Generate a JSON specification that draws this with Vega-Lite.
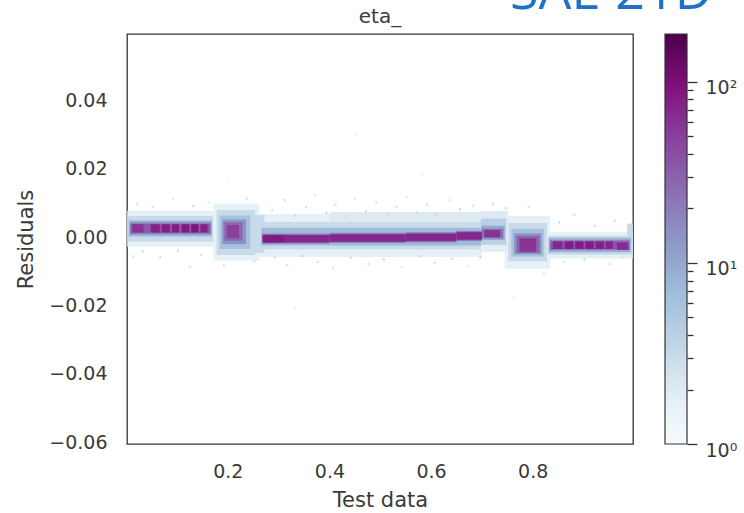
{
  "$schema": "https://vega.github.io/schema/vega-lite/v6.json",
  "width": 506,
  "height": 410,
  "autosize": {"type": "none"},
  "padding": {"left": 127, "top": 34, "right": 111, "bottom": 69},
  "background": "white",
  "config": {
    "view": {"stroke": "#333333", "strokeWidth": 1.3},
    "font": "DejaVu Sans",
    "axis": {
      "grid": false, "ticks": false, "domain": false,
      "labelFont": "DejaVu Sans", "labelFontSize": 19, "labelColor": "#3a3a3a",
      "titleFont": "DejaVu Sans", "titleFontSize": 21, "titleColor": "#3a3a3a", "titleFontWeight": "normal",
      "labelFlush": false, "labelOverlap": false
    }
  },
  "datasets": {
    "cells": [
      {"x": 0.002, "x2": 0.172, "y": -0.0028, "y2": 0.0078, "c": 1.6},
      {"x": 0.003, "x2": 0.171, "y": -0.0012, "y2": 0.0062, "c": 3},
      {"x": 0.005, "x2": 0.169, "y": 0.0002, "y2": 0.0050, "c": 7},
      {"x": 0.007, "x2": 0.167, "y": 0.0008, "y2": 0.0044, "c": 18},
      {"x": 0.009, "x2": 0.165, "y": 0.0013, "y2": 0.0039, "c": 35},
      {"x": 0.012, "x2": 0.034, "y": 0.0014, "y2": 0.0038, "c": 60},
      {"x": 0.048, "x2": 0.066, "y": 0.0014, "y2": 0.0038, "c": 75},
      {"x": 0.070, "x2": 0.086, "y": 0.0014, "y2": 0.0038, "c": 80},
      {"x": 0.090, "x2": 0.104, "y": 0.0014, "y2": 0.0038, "c": 80},
      {"x": 0.109, "x2": 0.124, "y": 0.0014, "y2": 0.0038, "c": 85},
      {"x": 0.128, "x2": 0.142, "y": 0.0014, "y2": 0.0038, "c": 90},
      {"x": 0.146, "x2": 0.160, "y": 0.0014, "y2": 0.0038, "c": 75},

      {"x": 0.172, "x2": 0.262, "y": -0.0068, "y2": 0.0098, "c": 1.6},
      {"x": 0.178, "x2": 0.254, "y": -0.0052, "y2": 0.0080, "c": 3},
      {"x": 0.184, "x2": 0.244, "y": -0.0034, "y2": 0.0064, "c": 6},
      {"x": 0.189, "x2": 0.236, "y": -0.0020, "y2": 0.0052, "c": 14},
      {"x": 0.193, "x2": 0.229, "y": -0.0010, "y2": 0.0044, "c": 28},
      {"x": 0.198, "x2": 0.222, "y": -0.0002, "y2": 0.0036, "c": 50},
      {"x": 0.240, "x2": 0.272, "y": -0.0045, "y2": 0.0065, "c": 3},

      {"x": 0.262, "x2": 0.700, "y": -0.0058, "y2": 0.0068, "c": 1.6},
      {"x": 0.400, "x2": 0.745, "y": 0.0045, "y2": 0.0074, "c": 2},
      {"x": 0.264, "x2": 0.698, "y": -0.0036, "y2": 0.0045, "c": 3},
      {"x": 0.266, "x2": 0.698, "y": -0.0024, "y2": 0.0028, "c": 7},
      {"x": 0.267, "x2": 0.400, "y": -0.0019, "y2": 0.0011, "c": 20},
      {"x": 0.400, "x2": 0.550, "y": -0.0017, "y2": 0.0013, "c": 20},
      {"x": 0.550, "x2": 0.650, "y": -0.0015, "y2": 0.0015, "c": 20},
      {"x": 0.650, "x2": 0.700, "y": -0.0011, "y2": 0.0019, "c": 20},
      {"x": 0.268, "x2": 0.400, "y": -0.0015, "y2": 0.0007, "c": 70},
      {"x": 0.400, "x2": 0.550, "y": -0.0013, "y2": 0.0009, "c": 70},
      {"x": 0.550, "x2": 0.650, "y": -0.0011, "y2": 0.0011, "c": 70},
      {"x": 0.650, "x2": 0.700, "y": -0.0007, "y2": 0.0015, "c": 70},
      {"x": 0.272, "x2": 0.310, "y": -0.0015, "y2": 0.0007, "c": 85},

      {"x": 0.695, "x2": 0.752, "y": -0.0042, "y2": 0.0078, "c": 1.8},
      {"x": 0.698, "x2": 0.748, "y": -0.0022, "y2": 0.0055, "c": 4},
      {"x": 0.699, "x2": 0.745, "y": -0.0008, "y2": 0.0034, "c": 10},
      {"x": 0.700, "x2": 0.742, "y": -0.0003, "y2": 0.0025, "c": 25},
      {"x": 0.705, "x2": 0.736, "y": 0.0000, "y2": 0.0021, "c": 60},

      {"x": 0.745, "x2": 0.834, "y": -0.0092, "y2": 0.0062, "c": 1.6},
      {"x": 0.752, "x2": 0.828, "y": -0.0070, "y2": 0.0042, "c": 3},
      {"x": 0.758, "x2": 0.822, "y": -0.0056, "y2": 0.0024, "c": 6},
      {"x": 0.763, "x2": 0.818, "y": -0.0050, "y2": 0.0012, "c": 13},
      {"x": 0.768, "x2": 0.814, "y": -0.0046, "y2": 0.0005, "c": 28},
      {"x": 0.774, "x2": 0.807, "y": -0.0042, "y2": -0.0003, "c": 60},

      {"x": 0.826, "x2": 0.997, "y": -0.0062, "y2": 0.0016, "c": 1.6},
      {"x": 0.830, "x2": 0.995, "y": -0.0050, "y2": 0.0004, "c": 3.5},
      {"x": 0.832, "x2": 0.993, "y": -0.0043, "y2": -0.0003, "c": 9},
      {"x": 0.834, "x2": 0.991, "y": -0.0037, "y2": -0.0009, "c": 22},
      {"x": 0.836, "x2": 0.989, "y": -0.0034, "y2": -0.0012, "c": 38},
      {"x": 0.840, "x2": 0.858, "y": -0.0034, "y2": -0.0012, "c": 70},
      {"x": 0.863, "x2": 0.880, "y": -0.0034, "y2": -0.0012, "c": 80},
      {"x": 0.884, "x2": 0.900, "y": -0.0034, "y2": -0.0012, "c": 80},
      {"x": 0.904, "x2": 0.920, "y": -0.0034, "y2": -0.0012, "c": 80},
      {"x": 0.924, "x2": 0.940, "y": -0.0034, "y2": -0.0012, "c": 78},
      {"x": 0.944, "x2": 0.958, "y": -0.0034, "y2": -0.0012, "c": 72},
      {"x": 0.966, "x2": 0.988, "y": -0.0037, "y2": -0.0016, "c": 65},
      {"x": 0.986, "x2": 0.997, "y": -0.0020, "y2": 0.0040, "c": 3},

      {"x": 0.285, "x2": 0.289, "y": 0.0075, "y2": 0.0082, "c": 2.5},
      {"x": 0.310, "x2": 0.314, "y": 0.0105, "y2": 0.0112, "c": 2.5},
      {"x": 0.330, "x2": 0.334, "y": 0.0060, "y2": 0.0067, "c": 3},
      {"x": 0.352, "x2": 0.356, "y": 0.0085, "y2": 0.0092, "c": 2.5},
      {"x": 0.370, "x2": 0.374, "y": 0.0120, "y2": 0.0127, "c": 2},
      {"x": 0.392, "x2": 0.396, "y": 0.0068, "y2": 0.0075, "c": 3},
      {"x": 0.410, "x2": 0.414, "y": 0.0092, "y2": 0.0099, "c": 2.5},
      {"x": 0.430, "x2": 0.434, "y": 0.0058, "y2": 0.0065, "c": 3},
      {"x": 0.448, "x2": 0.452, "y": 0.0110, "y2": 0.0117, "c": 2},
      {"x": 0.470, "x2": 0.474, "y": 0.0072, "y2": 0.0079, "c": 3},
      {"x": 0.490, "x2": 0.494, "y": 0.0098, "y2": 0.0105, "c": 2.5},
      {"x": 0.512, "x2": 0.516, "y": 0.0062, "y2": 0.0069, "c": 3},
      {"x": 0.530, "x2": 0.534, "y": 0.0085, "y2": 0.0092, "c": 2.5},
      {"x": 0.550, "x2": 0.554, "y": 0.0115, "y2": 0.0122, "c": 2},
      {"x": 0.570, "x2": 0.574, "y": 0.0068, "y2": 0.0075, "c": 3},
      {"x": 0.590, "x2": 0.594, "y": 0.0092, "y2": 0.0099, "c": 2.5},
      {"x": 0.610, "x2": 0.614, "y": 0.0063, "y2": 0.0070, "c": 3},
      {"x": 0.635, "x2": 0.639, "y": 0.0105, "y2": 0.0112, "c": 2},
      {"x": 0.655, "x2": 0.659, "y": 0.0078, "y2": 0.0085, "c": 3},
      {"x": 0.680, "x2": 0.684, "y": 0.0088, "y2": 0.0095, "c": 2.5},
      {"x": 0.720, "x2": 0.724, "y": 0.0095, "y2": 0.0102, "c": 2.5},
      {"x": 0.745, "x2": 0.749, "y": 0.0082, "y2": 0.0089, "c": 2.5},
      {"x": 0.290, "x2": 0.294, "y": -0.0062, "y2": -0.0055, "c": 3},
      {"x": 0.315, "x2": 0.319, "y": -0.0085, "y2": -0.0078, "c": 2.5},
      {"x": 0.345, "x2": 0.349, "y": -0.0058, "y2": -0.0051, "c": 3},
      {"x": 0.375, "x2": 0.379, "y": -0.0075, "y2": -0.0068, "c": 2.5},
      {"x": 0.405, "x2": 0.409, "y": -0.0095, "y2": -0.0088, "c": 2},
      {"x": 0.440, "x2": 0.444, "y": -0.0063, "y2": -0.0056, "c": 3},
      {"x": 0.475, "x2": 0.479, "y": -0.0082, "y2": -0.0075, "c": 2.5},
      {"x": 0.505, "x2": 0.509, "y": -0.0068, "y2": -0.0061, "c": 3},
      {"x": 0.540, "x2": 0.544, "y": -0.0091, "y2": -0.0084, "c": 2},
      {"x": 0.575, "x2": 0.579, "y": -0.0060, "y2": -0.0053, "c": 3},
      {"x": 0.605, "x2": 0.609, "y": -0.0078, "y2": -0.0071, "c": 2.5},
      {"x": 0.640, "x2": 0.644, "y": -0.0066, "y2": -0.0059, "c": 3},
      {"x": 0.670, "x2": 0.674, "y": -0.0088, "y2": -0.0081, "c": 2},
      {"x": 0.695, "x2": 0.699, "y": -0.0062, "y2": -0.0055, "c": 3},
      {"x": 0.020, "x2": 0.024, "y": 0.0095, "y2": 0.0102, "c": 2.5},
      {"x": 0.050, "x2": 0.054, "y": 0.0085, "y2": 0.0092, "c": 2.5},
      {"x": 0.090, "x2": 0.094, "y": 0.0108, "y2": 0.0115, "c": 2},
      {"x": 0.130, "x2": 0.134, "y": 0.0088, "y2": 0.0095, "c": 2.5},
      {"x": 0.160, "x2": 0.164, "y": 0.0098, "y2": 0.0105, "c": 2},
      {"x": 0.030, "x2": 0.034, "y": -0.0045, "y2": -0.0038, "c": 3},
      {"x": 0.065, "x2": 0.069, "y": -0.0062, "y2": -0.0055, "c": 2.5},
      {"x": 0.100, "x2": 0.104, "y": -0.0042, "y2": -0.0035, "c": 3},
      {"x": 0.123, "x2": 0.127, "y": -0.0090, "y2": -0.0083, "c": 2.5},
      {"x": 0.145, "x2": 0.149, "y": -0.0055, "y2": -0.0048, "c": 2.5},
      {"x": 0.012, "x2": 0.016, "y": -0.0060, "y2": -0.0053, "c": 2.5},
      {"x": 0.235, "x2": 0.239, "y": 0.0110, "y2": 0.0117, "c": 2.5},
      {"x": 0.190, "x2": 0.194, "y": -0.0085, "y2": -0.0078, "c": 2.5},
      {"x": 0.250, "x2": 0.254, "y": -0.0075, "y2": -0.0068, "c": 2.5},
      {"x": 0.790, "x2": 0.794, "y": 0.0085, "y2": 0.0092, "c": 2.5},
      {"x": 0.850, "x2": 0.854, "y": 0.0040, "y2": 0.0047, "c": 3},
      {"x": 0.880, "x2": 0.884, "y": 0.0062, "y2": 0.0069, "c": 2.5},
      {"x": 0.920, "x2": 0.924, "y": 0.0030, "y2": 0.0037, "c": 3},
      {"x": 0.960, "x2": 0.964, "y": 0.0045, "y2": 0.0052, "c": 2.5},
      {"x": 0.860, "x2": 0.864, "y": -0.0075, "y2": -0.0068, "c": 2.5},
      {"x": 0.900, "x2": 0.904, "y": -0.0068, "y2": -0.0061, "c": 3},
      {"x": 0.950, "x2": 0.954, "y": -0.0082, "y2": -0.0075, "c": 2.5},
      {"x": 0.975, "x2": 0.979, "y": -0.0062, "y2": -0.0055, "c": 2.5},
      {"x": 0.820, "x2": 0.824, "y": -0.0110, "y2": -0.0103, "c": 2},
      {"x": 0.450, "x2": 0.454, "y": 0.0300, "y2": 0.0307, "c": 1.5},
      {"x": 0.330, "x2": 0.334, "y": -0.0210, "y2": -0.0203, "c": 1.5},
      {"x": 0.580, "x2": 0.584, "y": 0.0180, "y2": 0.0187, "c": 1.5},
      {"x": 0.200, "x2": 0.204, "y": 0.0160, "y2": 0.0167, "c": 1.5},
      {"x": 0.760, "x2": 0.764, "y": -0.0180, "y2": -0.0173, "c": 1.5}
    ]
  },
  "resolve": {
    "scale": {"x": "independent", "y": "independent"},
    "axis": {"x": "independent", "y": "independent"}
  },
  "layer": [
    {
      "data": {"name": "cells"},
      "mark": {"type": "rect", "clip": true, "strokeWidth": 0},
      "encoding": {
        "x": {
          "field": "x", "type": "quantitative",
          "scale": {"domain": [0.0015, 0.9975], "nice": false, "zero": false},
          "axis": {"title": "Test data", "values": [0.2, 0.4, 0.6, 0.8], "format": ".1f", "labelPadding": 18, "titlePadding": 8}
        },
        "x2": {"field": "x2"},
        "y": {
          "field": "y", "type": "quantitative",
          "scale": {"domain": [-0.0605, 0.0595], "nice": false, "zero": false},
          "axis": {"title": "Residuals", "values": [-0.06, -0.04, -0.02, 0, 0.02, 0.04], "format": ".2f", "labelPadding": 20, "titlePadding": 12}
        },
        "y2": {"field": "y2"},
        "color": {
          "field": "c", "type": "quantitative",
          "scale": {
            "type": "log",
            "domain": [1, 1.919, 3.683, 7.069, 13.57, 26.04, 49.97, 95.9, 184],
            "range": ["#f7fcfd", "#e0ecf4", "#bfd3e6", "#9ebcda", "#8c96c6", "#8c6bb1", "#88419d", "#810f7c", "#4d004b"],
            "interpolate": "rgb"
          },
          "legend": null
        },
        "order": {"field": "c", "type": "quantitative", "sort": "ascending"}
      }
    },
    {
      "data": {"values": [{}]},
      "mark": {
        "type": "rect", "stroke": "#333333", "strokeWidth": 1.2,
        "fill": {
          "gradient": "linear", "x1": 0, "y1": 1, "x2": 0, "y2": 0,
          "stops": [
            {"offset": 0, "color": "#f7fcfd"},
            {"offset": 0.125, "color": "#e0ecf4"},
            {"offset": 0.25, "color": "#bfd3e6"},
            {"offset": 0.375, "color": "#9ebcda"},
            {"offset": 0.5, "color": "#8c96c6"},
            {"offset": 0.625, "color": "#8c6bb1"},
            {"offset": 0.75, "color": "#88419d"},
            {"offset": 0.875, "color": "#810f7c"},
            {"offset": 1, "color": "#4d004b"}
          ]
        }
      },
      "encoding": {
        "x": {"datum": 1.0605, "type": "quantitative", "scale": {"domain": [0.0015, 0.9975], "nice": false, "zero": false}, "axis": null},
        "x2": {"datum": 1.1038},
        "y": {
          "datum": 1, "type": "quantitative",
          "scale": {"type": "log", "domain": [1, 184], "nice": false},
          "axis": {
            "orient": "right", "offset": 54, "title": null,
            "ticks": true, "domain": false,
            "values": [1, 2, 3, 4, 5, 6, 7, 8, 9, 10, 20, 30, 40, 50, 60, 70, 80, 90, 100],
            "tickColor": "#333333", "tickWidth": 1.3,
            "tickSize": {"condition": {"test": "datum.value == 1 || datum.value == 10 || datum.value == 100", "value": 10}, "value": 6},
            "labelExpr": "datum.value == 1 ? '10⁰' : datum.value == 10 ? '10¹' : datum.value == 100 ? '10²' : ''",
            "labelFontSize": 19, "labelPadding": 8, "labelOffset": 6
          }
        },
        "y2": {"datum": 184}
      }
    },
    {
      "data": {"values": [{}]},
      "mark": {"type": "text", "text": "eta_", "align": "center", "baseline": "alphabetic", "font": "DejaVu Sans", "fontSize": 20, "color": "#3a3a3a"},
      "encoding": {
        "x": {"datum": 0.4995, "type": "quantitative", "scale": {"domain": [0.0015, 0.9975], "nice": false, "zero": false}, "axis": null},
        "y": {"datum": 0.0628, "type": "quantitative", "scale": {"domain": [-0.0605, 0.0595], "nice": false, "zero": false}, "axis": null}
      }
    },
    {
      "data": {"values": [{}]},
      "mark": {"type": "text", "text": "SAL-21D", "align": "left", "baseline": "alphabetic", "font": "Open Sans", "fontSize": 52, "color": "#1f72c2"},
      "encoding": {
        "x": {"datum": 0.7555, "type": "quantitative", "scale": {"domain": [0.0015, 0.9975], "nice": false, "zero": false}, "axis": null},
        "y": {"datum": 0.0668, "type": "quantitative", "scale": {"domain": [-0.0605, 0.0595], "nice": false, "zero": false}, "axis": null}
      }
    }
  ]
}
